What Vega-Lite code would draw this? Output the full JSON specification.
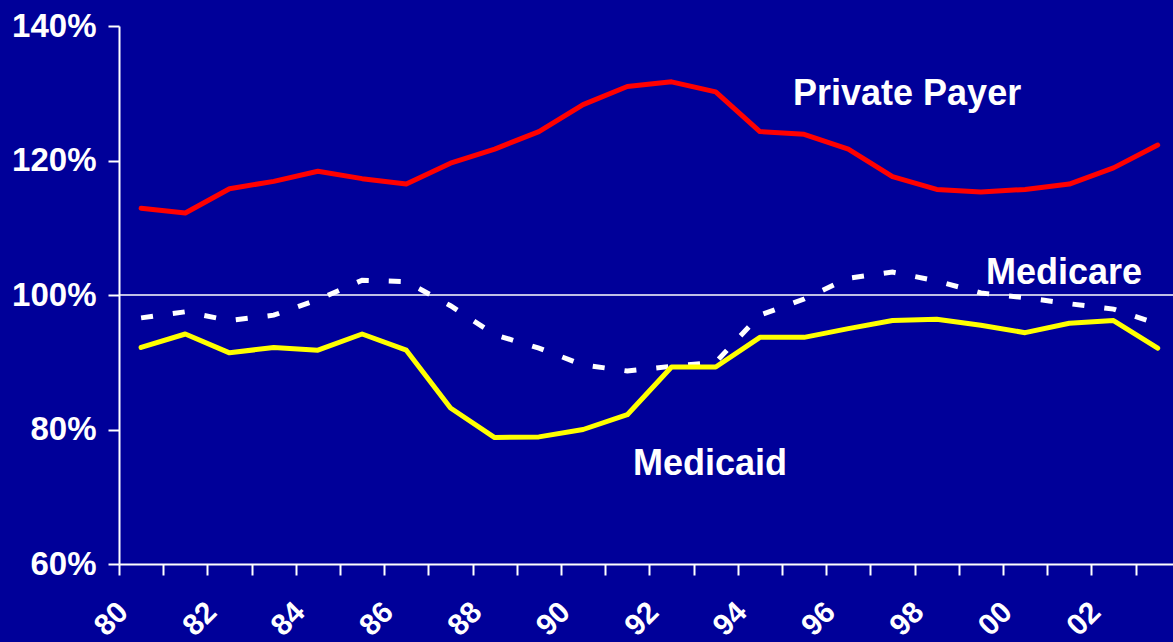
{
  "$schema": "https://vega.github.io/schema/vega-lite/v6.json",
  "width": 1054,
  "height": 538,
  "autosize": {"type": "none"},
  "padding": {"left": 119, "top": 26, "right": 0, "bottom": 78},
  "background": "#000099",
  "config": {
    "view": {"stroke": null},
    "font": "Liberation Sans",
    "axis": {
      "title": null, "grid": false,
      "domainColor": "white", "domainWidth": 2,
      "tickColor": "white", "tickWidth": 2, "tickSize": 11,
      "labelColor": "white", "labelFontWeight": "bold", "labelFont": "Liberation Sans",
      "labelBound": false, "labelFlush": false, "labelOverlap": false
    },
    "axisX": {"labelFontSize": 30, "labelAngle": -45, "labelAlign": "right", "labelBaseline": "middle", "labelPadding": 32, "labelOffset": 4},
    "axisY": {"labelFontSize": 33, "labelPadding": 12}
  },
  "datasets": {
    "ref": [{"value": 100}],
    "series": [
      {"year": 1980, "series": "Private Payer", "value": 112.9},
      {"year": 1981, "series": "Private Payer", "value": 112.2},
      {"year": 1982, "series": "Private Payer", "value": 115.8},
      {"year": 1983, "series": "Private Payer", "value": 116.9},
      {"year": 1984, "series": "Private Payer", "value": 118.4},
      {"year": 1985, "series": "Private Payer", "value": 117.3},
      {"year": 1986, "series": "Private Payer", "value": 116.5},
      {"year": 1987, "series": "Private Payer", "value": 119.6},
      {"year": 1988, "series": "Private Payer", "value": 121.7},
      {"year": 1989, "series": "Private Payer", "value": 124.3},
      {"year": 1990, "series": "Private Payer", "value": 128.3},
      {"year": 1991, "series": "Private Payer", "value": 131.0},
      {"year": 1992, "series": "Private Payer", "value": 131.7},
      {"year": 1993, "series": "Private Payer", "value": 130.2},
      {"year": 1994, "series": "Private Payer", "value": 124.3},
      {"year": 1995, "series": "Private Payer", "value": 123.9},
      {"year": 1996, "series": "Private Payer", "value": 121.7},
      {"year": 1997, "series": "Private Payer", "value": 117.6},
      {"year": 1998, "series": "Private Payer", "value": 115.7},
      {"year": 1999, "series": "Private Payer", "value": 115.3},
      {"year": 2000, "series": "Private Payer", "value": 115.7},
      {"year": 2001, "series": "Private Payer", "value": 116.5},
      {"year": 2002, "series": "Private Payer", "value": 118.9},
      {"year": 2003, "series": "Private Payer", "value": 122.3},
      {"year": 1980, "series": "Medicare", "value": 96.6},
      {"year": 1981, "series": "Medicare", "value": 97.5},
      {"year": 1982, "series": "Medicare", "value": 96.2},
      {"year": 1983, "series": "Medicare", "value": 97.0},
      {"year": 1984, "series": "Medicare", "value": 99.3},
      {"year": 1985, "series": "Medicare", "value": 102.2},
      {"year": 1986, "series": "Medicare", "value": 102.0},
      {"year": 1987, "series": "Medicare", "value": 98.4},
      {"year": 1988, "series": "Medicare", "value": 94.1},
      {"year": 1989, "series": "Medicare", "value": 92.1},
      {"year": 1990, "series": "Medicare", "value": 89.6},
      {"year": 1991, "series": "Medicare", "value": 88.7},
      {"year": 1992, "series": "Medicare", "value": 89.4},
      {"year": 1993, "series": "Medicare", "value": 90.0},
      {"year": 1994, "series": "Medicare", "value": 97.0},
      {"year": 1995, "series": "Medicare", "value": 99.4},
      {"year": 1996, "series": "Medicare", "value": 102.5},
      {"year": 1997, "series": "Medicare", "value": 103.4},
      {"year": 1998, "series": "Medicare", "value": 102.1},
      {"year": 1999, "series": "Medicare", "value": 100.3},
      {"year": 2000, "series": "Medicare", "value": 99.6},
      {"year": 2001, "series": "Medicare", "value": 98.7},
      {"year": 2002, "series": "Medicare", "value": 97.9},
      {"year": 2003, "series": "Medicare", "value": 95.7},
      {"year": 1980, "series": "Medicaid", "value": 92.2},
      {"year": 1981, "series": "Medicaid", "value": 94.2},
      {"year": 1982, "series": "Medicaid", "value": 91.4},
      {"year": 1983, "series": "Medicaid", "value": 92.2},
      {"year": 1984, "series": "Medicaid", "value": 91.8},
      {"year": 1985, "series": "Medicaid", "value": 94.2},
      {"year": 1986, "series": "Medicaid", "value": 91.8},
      {"year": 1987, "series": "Medicaid", "value": 83.2},
      {"year": 1988, "series": "Medicaid", "value": 78.8},
      {"year": 1989, "series": "Medicaid", "value": 78.9},
      {"year": 1990, "series": "Medicaid", "value": 80.0},
      {"year": 1991, "series": "Medicaid", "value": 82.2},
      {"year": 1992, "series": "Medicaid", "value": 89.3},
      {"year": 1993, "series": "Medicaid", "value": 89.3},
      {"year": 1994, "series": "Medicaid", "value": 93.7},
      {"year": 1995, "series": "Medicaid", "value": 93.7},
      {"year": 1996, "series": "Medicaid", "value": 95.0},
      {"year": 1997, "series": "Medicaid", "value": 96.2},
      {"year": 1998, "series": "Medicaid", "value": 96.4},
      {"year": 1999, "series": "Medicaid", "value": 95.5},
      {"year": 2000, "series": "Medicaid", "value": 94.4},
      {"year": 2001, "series": "Medicaid", "value": 95.8},
      {"year": 2002, "series": "Medicaid", "value": 96.2},
      {"year": 2003, "series": "Medicaid", "value": 92.1}
    ],
    "labels": [
      {"year": 1997.33, "value": 128.25, "label": "Private Payer"},
      {"year": 2000.88, "value": 101.6, "label": "Medicare"},
      {"year": 1992.87, "value": 73.2, "label": "Medicaid"}
    ]
  },
  "layer": [
    {
      "data": {"name": "ref"},
      "mark": {"type": "rule", "color": "white", "strokeWidth": 1.5},
      "encoding": {
        "y": {
          "field": "value", "type": "quantitative",
          "scale": {"domain": [60, 140], "nice": false, "zero": false},
          "axis": {"values": [60, 80, 100, 120, 140], "labelExpr": "datum.value + '%'", "title": null}
        }
      }
    },
    {
      "data": {"name": "series"},
      "transform": [{"filter": "datum.series === 'Private Payer'"}],
      "mark": {"type": "line", "color": "#ff0000", "strokeWidth": 5, "strokeJoin": "round", "strokeCap": "round"},
      "encoding": {
        "x": {
          "field": "year", "type": "quantitative",
          "scale": {"domain": [1979.5, 2003.346], "nice": false, "zero": false},
          "axis": {
            "values": [1979.5, 1980.5, 1981.5, 1982.5, 1983.5, 1984.5, 1985.5, 1986.5, 1987.5, 1988.5, 1989.5, 1990.5, 1991.5, 1992.5, 1993.5, 1994.5, 1995.5, 1996.5, 1997.5, 1998.5, 1999.5, 2000.5, 2001.5, 2002.5],
            "labelExpr": "(datum.value - 1979.5) % 2 == 0 ? slice('0' + ((datum.value + 0.5) % 100), -2) : ''",
            "title": null
          }
        },
        "y": {
          "field": "value", "type": "quantitative",
          "scale": {"domain": [60, 140], "nice": false, "zero": false},
          "axis": {"values": [60, 80, 100, 120, 140], "labelExpr": "datum.value + '%'", "title": null}
        }
      }
    },
    {
      "data": {"name": "series"},
      "transform": [{"filter": "datum.series === 'Medicare'"}],
      "mark": {"type": "line", "color": "white", "strokeWidth": 5, "strokeDash": [12, 20], "strokeCap": "butt"},
      "encoding": {
        "x": {
          "field": "year", "type": "quantitative",
          "scale": {"domain": [1979.5, 2003.346], "nice": false, "zero": false},
          "axis": {
            "values": [1979.5, 1980.5, 1981.5, 1982.5, 1983.5, 1984.5, 1985.5, 1986.5, 1987.5, 1988.5, 1989.5, 1990.5, 1991.5, 1992.5, 1993.5, 1994.5, 1995.5, 1996.5, 1997.5, 1998.5, 1999.5, 2000.5, 2001.5, 2002.5],
            "labelExpr": "(datum.value - 1979.5) % 2 == 0 ? slice('0' + ((datum.value + 0.5) % 100), -2) : ''",
            "title": null
          }
        },
        "y": {
          "field": "value", "type": "quantitative",
          "scale": {"domain": [60, 140], "nice": false, "zero": false},
          "axis": {"values": [60, 80, 100, 120, 140], "labelExpr": "datum.value + '%'", "title": null}
        }
      }
    },
    {
      "data": {"name": "series"},
      "transform": [{"filter": "datum.series === 'Medicaid'"}],
      "mark": {"type": "line", "color": "#ffff00", "strokeWidth": 5, "strokeJoin": "round", "strokeCap": "round"},
      "encoding": {
        "x": {
          "field": "year", "type": "quantitative",
          "scale": {"domain": [1979.5, 2003.346], "nice": false, "zero": false},
          "axis": {
            "values": [1979.5, 1980.5, 1981.5, 1982.5, 1983.5, 1984.5, 1985.5, 1986.5, 1987.5, 1988.5, 1989.5, 1990.5, 1991.5, 1992.5, 1993.5, 1994.5, 1995.5, 1996.5, 1997.5, 1998.5, 1999.5, 2000.5, 2001.5, 2002.5],
            "labelExpr": "(datum.value - 1979.5) % 2 == 0 ? slice('0' + ((datum.value + 0.5) % 100), -2) : ''",
            "title": null
          }
        },
        "y": {
          "field": "value", "type": "quantitative",
          "scale": {"domain": [60, 140], "nice": false, "zero": false},
          "axis": {"values": [60, 80, 100, 120, 140], "labelExpr": "datum.value + '%'", "title": null}
        }
      }
    },
    {
      "data": {"name": "labels"},
      "mark": {"type": "text", "color": "white", "fontSize": 36, "fontWeight": "bold", "font": "Liberation Sans", "align": "center", "baseline": "alphabetic"},
      "encoding": {
        "x": {
          "field": "year", "type": "quantitative",
          "scale": {"domain": [1979.5, 2003.346], "nice": false, "zero": false},
          "axis": {
            "values": [1979.5, 1980.5, 1981.5, 1982.5, 1983.5, 1984.5, 1985.5, 1986.5, 1987.5, 1988.5, 1989.5, 1990.5, 1991.5, 1992.5, 1993.5, 1994.5, 1995.5, 1996.5, 1997.5, 1998.5, 1999.5, 2000.5, 2001.5, 2002.5],
            "labelExpr": "(datum.value - 1979.5) % 2 == 0 ? slice('0' + ((datum.value + 0.5) % 100), -2) : ''",
            "title": null
          }
        },
        "y": {
          "field": "value", "type": "quantitative",
          "scale": {"domain": [60, 140], "nice": false, "zero": false},
          "axis": {"values": [60, 80, 100, 120, 140], "labelExpr": "datum.value + '%'", "title": null}
        },
        "text": {"field": "label", "type": "nominal"}
      }
    }
  ]
}
